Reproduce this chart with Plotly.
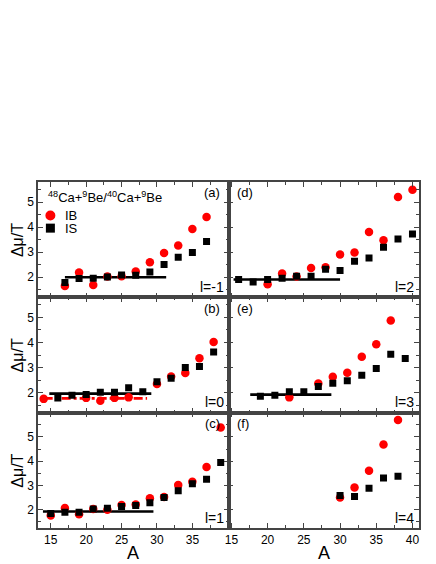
import plotly.graph_objects as go
from plotly.subplots import make_subplots

# panel (a) l=-1
a_A = [17, 19, 21, 23, 25, 27, 29, 31, 33, 35, 37]
a_ib = [1.65, 2.19, 1.69, 2.03, 2.04, 2.23, 2.60, 2.97, 3.27, 3.93, 4.40]
a_is = [1.79, 1.95, 1.96, 2.01, 2.09, 2.08, 2.21, 2.51, 2.80, 2.99, 3.43]
a_fit_x = [17, 31.3]
a_fit_y = [2.0, 2.0]

# panel (b) l=0
b_A = [14, 16, 18, 20, 22, 24, 26, 28, 30, 32, 34, 36, 38]
b_ib = [1.75, None, None, 1.79, 1.68, 1.79, 1.81, None, 2.34, 2.64, 2.78, 3.37, 4.02]
b_is = [None, 1.78, 1.89, 1.92, 2.01, 2.01, 2.19, 2.03, 2.43, 2.57, 3.00, 3.04, 3.62]
b_fit_x = [14.8, 29.2]
b_fit_y = [1.96, 1.96]
b_fit_ib_x = [14, 28.6]
b_fit_ib_y = [1.77, 1.77]

# panel (c) l=1
c_A = [15, 17, 19, 21, 23, 25, 27, 29, 31, 33, 35, 37, 39]
c_ib = [1.77, 2.07, 1.82, 2.03, 2.00, 2.20, 2.22, 2.48, 2.53, 3.02, 3.15, 3.76, 5.39]
c_is = [1.85, 1.90, 1.90, 2.03, 2.06, 2.14, 2.18, 2.29, 2.51, 2.78, 3.07, 3.26, 3.95]
c_fit_x = [13.9, 29.5]
c_fit_y = [1.93, 1.93]

# panel (d) l=2
d_A = [16, 18, 20, 22, 24, 26, 28, 30, 32, 34, 36, 38, 40]
d_ib = [None, None, 1.72, 2.15, 2.03, 2.37, 2.40, 2.91, 2.99, 3.81, 3.48, 5.20, 5.49]
d_is = [1.91, 1.81, 1.91, 1.96, 2.04, 2.04, 2.32, 2.27, 2.64, 2.77, 3.20, 3.53, 3.73]
d_fit_x = [15.3, 30.0]
d_fit_y = [1.91, 1.91]

# panel (e) l=3
e_A = [19, 21, 23, 25, 27, 29, 31, 33, 35, 37, 39]
e_ib = [None, None, 1.81, None, 2.36, 2.63, 2.79, 3.43, 3.93, 4.88, None]
e_is = [1.85, 1.89, 2.03, 2.03, 2.24, 2.37, 2.47, 2.69, 2.96, 3.53, 3.36]
e_fit_x = [17.6, 28.8]
e_fit_y = [1.92, 1.92]

# panel (f) l=4
f_A = [30, 32, 34, 36, 38]
f_ib = [2.51, 2.92, 3.61, 4.69, 5.70]
f_is = [2.59, 2.55, 2.89, 3.31, 3.38]

panel_tags = ["(a)", "(d)", "(b)", "(e)", "(c)", "(f)"]
l_labels = ["l=-1", "l=2", "l=0", "l=3", "l=1", "l=4"]

FONT = "Liberation Sans, Arial, sans-serif"
RED = "#ff0000"
AXC = "#444444"

fig = make_subplots(rows=3, cols=2, horizontal_spacing=0, vertical_spacing=0)

panels = [
    (1, 1, a_A, a_ib, a_is, [(a_fit_x, a_fit_y, "black", "solid")]),
    (1, 2, d_A, d_ib, d_is, [(d_fit_x, d_fit_y, "black", "solid")]),
    (2, 1, b_A, b_ib, b_is, [(b_fit_x, b_fit_y, "black", "solid"),
                             (b_fit_ib_x, b_fit_ib_y, RED, "dashdot")]),
    (2, 2, e_A, e_ib, e_is, [(e_fit_x, e_fit_y, "black", "solid")]),
    (3, 1, c_A, c_ib, c_is, [(c_fit_x, c_fit_y, "black", "solid")]),
    (3, 2, f_A, f_ib, f_is, []),
]

for row, col, A, ib, iss, fits in panels:
    for fx, fy, color, dash in fits:
        fig.add_trace(go.Scatter(x=fx, y=fy, mode="lines",
                                 line=dict(color=color, width=2.6, dash=dash),
                                 showlegend=False), row=row, col=col)
    fig.add_trace(go.Scatter(x=A, y=ib, mode="markers", name="IB",
                             marker=dict(symbol="circle", size=8.5, color=RED),
                             showlegend=False), row=row, col=col)
    fig.add_trace(go.Scatter(x=A, y=iss, mode="markers", name="IS",
                             marker=dict(symbol="square", size=7, color="black"),
                             showlegend=False), row=row, col=col)

# axes
for row in range(1, 4):
    for col in range(1, 3):
        xr = [13.2, 40.1] if col == 1 else [14.6, 40.9]
        yr = [1.25, 6.0] if row == 3 else [1.2, 5.8]
        xticks = [15, 20, 25, 30, 35] if col == 1 else [15, 20, 25, 30, 35, 40]
        fig.update_xaxes(range=xr, tickvals=xticks, automargin=False,
                         showticklabels=(row == 3), ticks="inside", ticklen=5,
                         tickcolor=AXC, tickwidth=1.2, showline=True, linecolor=AXC,
                         linewidth=1.5, mirror="allticks", showgrid=False, zeroline=False,
                         minor=dict(ticks="inside", ticklen=3, dtick=2.5, tick0=0,
                                    tickcolor=AXC, showgrid=False),
                         tickfont=dict(family=FONT, size=12, color="black"),
                         row=row, col=col)
        fig.update_yaxes(range=yr, tickvals=[2, 3, 4, 5], automargin=False,
                         showticklabels=(col == 1), ticks="inside", ticklen=5,
                         tickcolor=AXC, tickwidth=1.2, showline=True, linecolor=AXC,
                         linewidth=1.5, mirror="allticks", showgrid=False, zeroline=False,
                         minor=dict(ticks="inside", ticklen=3, dtick=0.5, tick0=0,
                                    tickcolor=AXC, showgrid=False),
                         tickfont=dict(family=FONT, size=12, color="black"),
                         row=row, col=col)

# axis titles
for xc in (0.25, 0.75):
    fig.add_annotation(text="A", xref="paper", yref="paper", x=xc, y=-0.072,
                       xanchor="center", yanchor="middle", showarrow=False,
                       font=dict(family=FONT, size=18, color="black"))
for yc in (5 / 6, 0.5, 1 / 6):
    fig.add_annotation(text="Δμ/T", xref="paper", yref="paper", x=-0.054, y=yc,
                       xanchor="center", yanchor="middle", textangle=-90, showarrow=False,
                       font=dict(family=FONT, size=16, color="black"))

# panel tags and l labels
for i in range(6):
    suffix = "" if i == 0 else str(i + 1)
    col = 1 if i % 2 == 0 else 2
    fig.add_annotation(text=panel_tags[i], xref=f"x{suffix} domain", yref=f"y{suffix} domain",
                       x=0.965 if col == 1 else 0.035, y=0.905,
                       xanchor="right" if col == 1 else "left", yanchor="middle",
                       showarrow=False, font=dict(family=FONT, size=13, color="black"))
    fig.add_annotation(text=l_labels[i], xref=f"x{suffix} domain", yref=f"y{suffix} domain",
                       x=0.985, y=0.09, xanchor="right", yanchor="middle",
                       showarrow=False, font=dict(family=FONT, size=14, color="black"))

# legend drawn by hand in panel (a)
fig.add_annotation(text="<sup>48</sup>Ca+<sup>9</sup>Be/<sup>40</sup>Ca+<sup>9</sup>Be",
                   xref="x domain", yref="y domain", x=0.04, y=0.87,
                   xanchor="left", yanchor="middle", showarrow=False,
                   font=dict(family=FONT, size=13, color="black"))
fig.add_shape(type="circle", xref="x domain", yref="y domain", xsizemode="pixel",
              ysizemode="pixel", xanchor=0.065, yanchor=0.71, x0=-5, x1=5, y0=-5, y1=5,
              fillcolor=RED, line=dict(width=0))
fig.add_shape(type="rect", xref="x domain", yref="y domain", xsizemode="pixel",
              ysizemode="pixel", xanchor=0.065, yanchor=0.6, x0=-4.5, x1=4.5, y0=-4.5, y1=4.5,
              fillcolor="black", line=dict(width=0))
fig.add_annotation(text="IB", xref="x domain", yref="y domain", x=0.13, y=0.71,
                   xanchor="left", yanchor="middle", showarrow=False,
                   font=dict(family=FONT, size=13, color="black"))
fig.add_annotation(text="IS", xref="x domain", yref="y domain", x=0.13, y=0.6,
                   xanchor="left", yanchor="middle", showarrow=False,
                   font=dict(family=FONT, size=13, color="black"))

# the page puts the plot 8 px in from the top-left corner
fig.update_layout(width=428, height=556,
                  margin=dict(l=30, r=17, t=174, b=36),
                  plot_bgcolor="white", paper_bgcolor="white",
                  font=dict(family=FONT, color="black"),
                  showlegend=False)

fig.write_html("out.html")
